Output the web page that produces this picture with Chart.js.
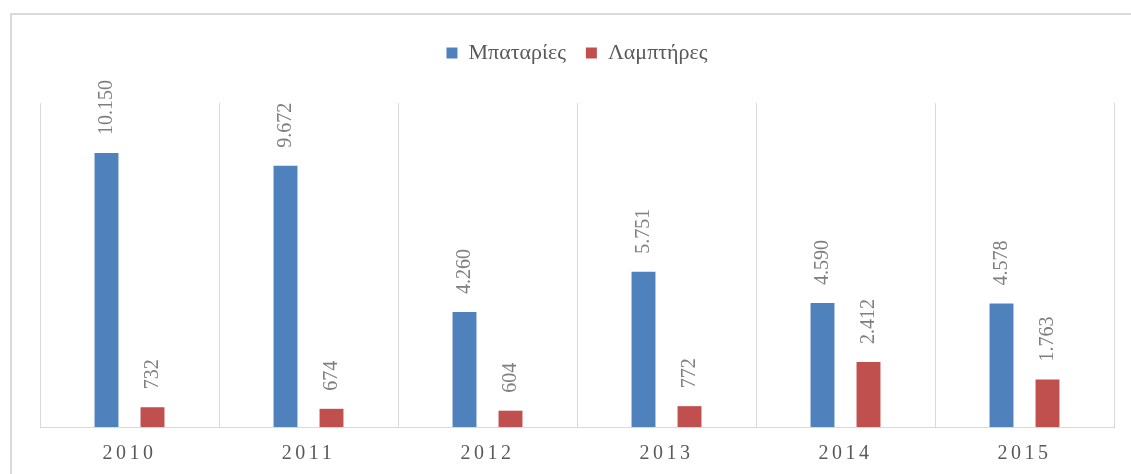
<!DOCTYPE html>
<html lang="el">
<head>
    <meta charset="UTF-8">
    <title>Μπαταρίες και Λαμπτήρες</title>
    <script src="https://cdn.jsdelivr.net/npm/chart.js"></script>
    <style>
        body {
            margin: 0;
            padding: 0;
            background: white;
            overflow: hidden;
        }

        .wrap {
            position: relative;
            width: 1131px;
            height: 474px;
        }

        .frame {
            position: absolute;
            left: 10px;
            top: 13px;
            width: 1200px;
            height: 600px;
            border: 2px solid #d9d9d9;
            pointer-events: none;
        }
    </style>
</head>
<body>
    <div class="wrap">
        <canvas id="chart" width="1131" height="474"></canvas>
        <div class="frame"></div>
    </div>

    <script>
        // data
        const years = ['2010', '2011', '2012', '2013', '2014', '2015'];
        const batteries = [10150, 9672, 4260, 5751, 4590, 4578];
        const lamps = [732, 674, 604, 772, 2412, 1763];

        const serif = "'Liberation Serif', 'Times New Roman', serif";

        // 10150 -> "10.150"
        const fmt = v => String(v).replace(/\B(?=(\d{3})+(?!\d))/g, '.');

        // rotated value labels above each bar
        const valueLabels = {
            id: 'valueLabels',
            afterDatasetsDraw(chart) {
                const ctx = chart.ctx;
                chart.data.datasets.forEach((ds, i) => {
                    chart.getDatasetMeta(i).data.forEach((bar, j) => {
                        ctx.save();
                        ctx.translate(bar.x, bar.y - 18);
                        ctx.rotate(-Math.PI / 2);
                        ctx.font = '20px ' + serif;
                        ctx.fillStyle = '#7f7f7f';
                        ctx.textAlign = 'left';
                        ctx.textBaseline = 'middle';
                        ctx.fillText(fmt(ds.data[j]), 0, 0);
                        ctx.restore();
                    });
                });
            }
        };

        // extra room under the legend + spaced-out year labels
        const tweaks = {
            id: 'tweaks',
            beforeInit(chart) {
                const fit = chart.legend.fit;
                chart.legend.fit = function () {
                    fit.call(this);
                    this.height += 29;
                };
            },
            afterLayout(chart) {
                const sc = chart.scales.x;
                if (sc._spaced) return;
                sc._spaced = true;
                const draw = sc.drawLabels;
                sc.drawLabels = function (area) {
                    chart.ctx.save();
                    chart.ctx.letterSpacing = '3.5px';
                    draw.call(this, area);
                    chart.ctx.restore();
                };
            }
        };

        new Chart(document.getElementById('chart'), {
            type: 'bar',
            data: {
                labels: years,
                datasets: [
                    {
                        label: 'Μπαταρίες',
                        data: batteries,
                        backgroundColor: '#4f81bd',
                        categoryPercentage: 0.514,
                        barPercentage: 0.52
                    },
                    {
                        label: 'Λαμπτήρες',
                        data: lamps,
                        backgroundColor: '#c0504d',
                        categoryPercentage: 0.514,
                        barPercentage: 0.52
                    }
                ]
            },
            options: {
                responsive: false,
                animation: false,
                layout: {
                    padding: { left: 40, right: 17, top: 22, bottom: 0 }
                },
                plugins: {
                    legend: {
                        position: 'top',
                        labels: {
                            boxWidth: 11,
                            boxHeight: 11,
                            padding: 20,
                            color: '#595959',
                            font: { family: serif, size: 22 }
                        }
                    },
                    tooltip: { enabled: false }
                },
                scales: {
                    x: {
                        afterFit(scale) {
                            scale.height = 47;
                        },
                        grid: {
                            offset: true,
                            color: '#d9d9d9',
                            lineWidth: 1,
                            drawTicks: false
                        },
                        border: { color: '#d9d9d9', width: 1 },
                        ticks: {
                            color: '#595959',
                            padding: 15,
                            font: { family: serif, size: 20 }
                        }
                    },
                    y: {
                        display: false,
                        min: 0,
                        max: 12000
                    }
                }
            },
            plugins: [valueLabels, tweaks]
        });
    </script>
</body>
</html>
